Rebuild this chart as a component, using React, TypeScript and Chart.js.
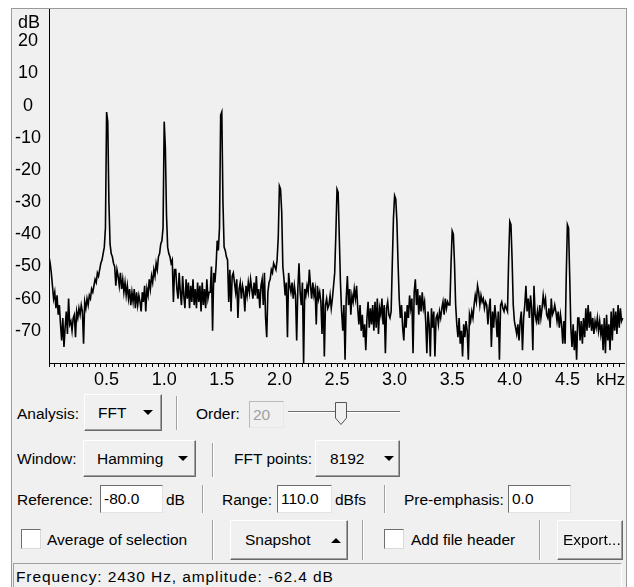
import React, { useEffect, useRef } from 'react';
import { Chart, registerables } from 'chart.js';

Chart.register(...registerables);

// ---------- data ----------
// spectrum bins, one value every 0.01 kHz starting at 0.00 kHz (dB)
const FREQ_STEP_KHZ = 0.01;
const amplitudeDb: number[] = [
  // 0.00
  -47, -49, -52, -56, -60, -58, -63, -59, -65, -62,
  // 0.10
  -68, -73, -66, -75, -69, -64, -71, -60, -68, -67,
  // 0.20
  -70, -66, -65, -72, -64, -66, -63, -65, -62, -64,
  // 0.30
  -74, -61, -63, -60, -62, -59, -60, -57, -58, -56,
  // 0.40
  -54, -55, -52, -53, -51, -49, -48, -46, -44, -38,
  // 0.50
  -2, -5, -30, -43, -46, -47, -49, -50, -56, -51,
  // 0.60
  -53, -56, -52, -57, -54, -58, -55, -59, -56, -60,
  // 0.70
  -57, -62, -58, -61, -57, -63, -58, -62, -59, -61,
  // 0.80
  -64, -58, -61, -56, -64, -57, -59, -54, -57, -53,
  // 0.90
  -55, -51, -53, -49, -51, -47, -46, -43, -42, -38,
  // 1.00
  -5, -13, -34, -44, -46, -47, -49, -48, -61, -51,
  // 1.10
  -51, -57, -60, -52, -58, -62, -53, -59, -63, -54,
  // 1.20
  -60, -55, -63, -56, -61, -54, -62, -57, -63, -55,
  // 1.30
  -61, -56, -64, -55, -62, -57, -63, -54, -60, -58,
  // 1.40
  -58, -50, -70, -52, -55, -50, -42, -45, -38, -3,
  // 1.50
  -2, -30, -44, -45, -47, -48, -61, -51, -64, -53,
  // 1.60
  -52, -55, -58, -54, -66, -57, -55, -60, -56, -58,
  // 1.70
  -64, -56, -59, -55, -58, -54, -57, -60, -55, -59,
  // 1.80
  -53, -60, -57, -63, -56, -54, -62, -52, -66, -72,
  // 1.90
  -58, -55, -54, -51, -52, -49, -50, -51, -48, -41,
  // 2.00
  -25, -26, -33, -50, -54, -59, -55, -72, -52, -56,
  // 2.10
  -58, -55, -60, -56, -59, -73, -57, -49, -58, -62,
  // 2.20
  -55, -80, -57, -59, -56, -58, -51, -56, -60, -55,
  // 2.30
  -59, -57, -68, -56, -60, -58, -61, -71, -57, -78,
  // 2.40
  -62, -60, -63, -62, -59, -63, -60, -56, -52, -40,
  // 2.50
  -26, -27, -41, -55, -64, -70, -62, -79, -60, -53,
  // 2.60
  -62, -57, -65, -59, -61, -57, -60, -56, -63, -68,
  // 2.70
  -62, -70, -65, -72, -68, -76, -66, -61, -69, -63,
  // 2.80
  -68, -62, -70, -61, -69, -60, -71, -63, -65, -60,
  // 2.90
  -68, -62, -77, -63, -61, -65, -66, -64, -49, -35,
  // 3.00
  -28, -29, -36, -49, -60, -66, -62, -69, -73, -64,
  // 3.10
  -69, -62, -66, -59, -63, -60, -77, -58, -54, -62,
  // 3.20
  -57, -65, -59, -64, -58, -63, -61, -67, -77, -64,
  // 3.30
  -68, -78, -63, -69, -64, -78, -66, -65, -68, -64,
  // 3.40
  -66, -63, -61, -65, -60, -63, -61, -62, -62, -49,
  // 3.50
  -39, -40, -49, -62, -68, -72, -66, -74, -70, -78,
  // 3.60
  -68, -72, -67, -70, -79, -65, -67, -64, -66, -62,
  // 3.70
  -59, -61, -56, -58, -62, -59, -61, -60, -63, -61,
  // 3.80
  -62, -68, -63, -60, -75, -64, -69, -62, -66, -72,
  // 3.90
  -64, -79, -62, -61, -63, -64, -62, -63, -64, -48,
  // 4.00
  -36, -37, -48, -62, -67, -69, -71, -68, -73, -67,
  // 4.10
  -64, -76, -66, -62, -56, -64, -60, -66, -59, -63,
  // 4.20
  -76, -56, -65, -67, -64, -68, -62, -66, -63, -59,
  // 4.30
  -62, -60, -65, -66, -63, -69, -60, -65, -64, -62,
  // 4.40
  -64, -67, -64, -69, -65, -68, -74, -67, -74, -53,
  // 4.50
  -37, -38, -53, -69, -75, -68, -76, -70, -79, -66,
  // 4.60
  -66, -73, -67, -74, -66, -72, -63, -70, -62, -69,
  // 4.70
  -64, -70, -66, -71, -67, -69, -66, -70, -67, -71,
  // 4.80
  -68, -76, -66, -77, -65, -73, -68, -76, -64, -73,
  // 4.90
  -63, -70, -64, -71, -62, -69, -63, -67, -66,
];

const xMajorTickValues = [0.5, 1.0, 1.5, 2.0, 2.5, 3.0, 3.5, 4.0, 4.5];
const xTickLabels = ['0.5', '1.0', '1.5', '2.0', '2.5', '3.0', '3.5', '4.0', '4.5'];
const X_MINOR_STEP_KHZ = 0.05;
const X_MIN_KHZ = 0;
const X_MAX_KHZ = 5;
const yTickValues = [20, 10, 0, -10, -20, -30, -40, -50, -60, -70];
const Y_MIN_DB = -80;
const Y_MAX_DB = 30;

const FONT = '"Liberation Sans", Arial, sans-serif';

// ---------- small UI pieces ----------
const Txt = ({ x, cy, children, size = 15.5, color = '#000', spacing = 0 }: any) => (
  <span
    style={{
      position: 'absolute',
      left: x,
      top: cy - 10,
      height: 20,
      lineHeight: '20px',
      fontSize: size,
      color,
      letterSpacing: spacing,
      whiteSpace: 'nowrap',
    }}
  >
    {children}
  </span>
);

const Arrow = ({ x, cy, up }: any) => (
  <div
    style={{
      position: 'absolute',
      left: x - 5,
      top: cy - 2.5,
      width: 0,
      height: 0,
      borderLeft: '5px solid transparent',
      borderRight: '5px solid transparent',
      ...(up ? { borderBottom: '5px solid #000' } : { borderTop: '5px solid #000' }),
    }}
  />
);

const Button = ({ x, y, w, h, label, labelX, arrowX, up }: any) => (
  <div
    style={{
      position: 'absolute',
      left: x,
      top: y,
      width: w,
      height: h,
      boxSizing: 'border-box',
      background: '#f0f0f0',
      borderStyle: 'solid',
      borderWidth: 1,
      borderColor: '#ffffff #696969 #696969 #ffffff',
      boxShadow: 'inset -1px -1px 0 #a0a0a0',
      overflow: 'hidden',
    }}
  >
    <Txt x={labelX} cy={h / 2 - 1}>{label}</Txt>
    {arrowX !== undefined && <Arrow x={arrowX} cy={h / 2 - 1} up={up} />}
  </div>
);

const Sep = ({ x, y, h }: any) => (
  <div
    style={{
      position: 'absolute',
      left: x,
      top: y,
      width: 1,
      height: h,
      background: '#a0a0a0',
      borderRight: '1px solid #ffffff',
    }}
  />
);

const Field = ({ x, y, w, h, text, disabled }: any) => (
  <div
    style={{
      position: 'absolute',
      left: x,
      top: y,
      width: w,
      height: h,
      boxSizing: 'border-box',
      background: disabled ? '#f0f0f0' : '#ffffff',
      borderStyle: 'solid',
      borderWidth: 1,
      borderColor: disabled ? '#b8b8b8 #e8e8e8 #e8e8e8 #b8b8b8' : '#6e6e6e #e3e3e3 #e3e3e3 #6e6e6e',
    }}
  >
    <Txt x={3} cy={h / 2 - 1} color={disabled ? '#a0a0a0' : '#000'}>{text}</Txt>
  </div>
);

const Check = ({ x, y }: any) => (
  <div
    style={{
      position: 'absolute',
      left: x,
      top: y,
      width: 20,
      height: 20,
      boxSizing: 'border-box',
      background: '#ffffff',
      borderStyle: 'solid',
      borderWidth: 1,
      borderColor: '#6e6e6e #d8d8d8 #d8d8d8 #6e6e6e',
    }}
  />
);

// ---------- chart ----------
function SpectrumChart() {
  const ref = useRef<HTMLCanvasElement | null>(null);
  useEffect(() => {
    if (!ref.current) return;
    const points = amplitudeDb.map((v, i) => ({ x: Number((i * FREQ_STEP_KHZ).toFixed(2)), y: v }));
    const chart = new Chart(ref.current, {
      type: 'line',
      data: {
        datasets: [
          {
            data: points,
            borderColor: '#000000',
            borderWidth: 1.6,
            pointRadius: 0,
            tension: 0,
            fill: false,
          },
        ],
      },
      options: {
        animation: false,
        responsive: false,
        maintainAspectRatio: false,
        layout: { padding: 0 },
        plugins: { legend: { display: false }, tooltip: { enabled: false } },
        scales: {
          x: {
            type: 'linear',
            min: X_MIN_KHZ,
            max: X_MAX_KHZ,
            afterFit: (s: any) => {
              s.height = 26;
              s.paddingLeft = 0;
              s.paddingRight = 0;
            },
            border: { display: true, color: '#000000', width: 1 },
            grid: {
              display: true,
              drawOnChartArea: false,
              drawTicks: true,
              tickLength: 4,
              color: '#000000',
              lineWidth: 1,
            },
            ticks: {
              stepSize: X_MINOR_STEP_KHZ,
              autoSkip: false,
              maxRotation: 0,
              minRotation: 0,
              padding: 2,
              color: '#000000',
              font: { family: FONT, size: 18 },
              callback: (v: any) => {
                const idx = xMajorTickValues.findIndex((m) => Math.abs(m - Number(v)) < 1e-6);
                return idx >= 0 ? xTickLabels[idx] : '';
              },
            },
          },
          y: {
            type: 'linear',
            min: Y_MIN_DB,
            max: Y_MAX_DB,
            afterFit: (s: any) => {
              s.width = 37;
              s.paddingTop = 0;
              s.paddingBottom = 0;
            },
            afterBuildTicks: (s: any) => {
              s.ticks = yTickValues.map((v) => ({ value: v }));
            },
            border: { display: true, color: '#000000', width: 1 },
            grid: { display: false, drawTicks: false },
            ticks: {
              crossAlign: 'center',
              padding: 8,
              color: '#000000',
              font: { family: FONT, size: 18 },
              callback: (v: any) => String(v),
            },
          },
        },
      },
    } as any);
    return () => chart.destroy();
  }, []);
  return (
    <canvas
      ref={ref}
      width={613}
      height={380}
      style={{ position: 'absolute', left: 12, top: 9, width: 613, height: 380 }}
    />
  );
}

export default function App() {
  return (
    <div
      style={{
        position: 'fixed',
        left: 0,
        top: 0,
        width: 634,
        height: 587,
        overflow: 'hidden',
        background: '#ffffff',
        fontFamily: FONT,
        color: '#000',
      }}
    >
      <div
        style={{
          position: 'absolute',
          left: 11,
          top: 8,
          width: 616,
          height: 600,
          boxSizing: 'border-box',
          background: '#f0f0f0',
          border: '1px solid #9a9a9a',
        }}
      />
      <SpectrumChart />
      <Txt x={18} cy={22} size={18}>dB</Txt>
      <Txt x={596} cy={380} size={17}>kHz</Txt>

      {/* row 1 */}
      <Txt x={17} cy={414}>Analysis:</Txt>
      <Button x={84} y={394} w={78} h={37} label="FFT" labelX={13} arrowX={63} />
      <Sep x={176} y={396} h={34} />
      <Txt x={196} cy={414}>Order:</Txt>
      <Field x={249} y={401} w={35} h={27} text="20" disabled />
      <div
        style={{
          position: 'absolute',
          left: 288,
          top: 411,
          width: 112,
          height: 1,
          background: '#6e6e6e',
          borderBottom: '1px solid #ffffff',
        }}
      />
      <svg style={{ position: 'absolute', left: 335, top: 402, overflow: 'visible' }} width={12} height={24}>
        <polygon points="0.5,0.5 11.5,0.5 11.5,16 6,22.5 0.5,16" fill="#f0f0f0" stroke="#555555" strokeWidth={1} />
      </svg>

      {/* row 2 */}
      <Txt x={17} cy={459}>Window:</Txt>
      <Button x={83} y={440} w={113} h={37} label="Hamming" labelX={13} arrowX={99} />
      <Sep x={212} y={443} h={34} />
      <Txt x={234} cy={459}>FFT points:</Txt>
      <Button x={315} y={440} w={85} h={37} label="8192" labelX={14} arrowX={73} />

      {/* row 3 */}
      <Txt x={17} cy={500}>Reference:</Txt>
      <Field x={100} y={485} w={63} h={28} text="-80.0" />
      <Txt x={166} cy={500}>dB</Txt>
      <Sep x={202} y={485} h={28} />
      <Txt x={222} cy={500}>Range:</Txt>
      <Field x={277} y={485} w={55} h={28} text="110.0" />
      <Txt x={335} cy={500}>dBfs</Txt>
      <Sep x={384} y={485} h={28} />
      <Txt x={404} cy={500}>Pre-emphasis:</Txt>
      <Field x={508} y={485} w={63} h={28} text="0.0" />

      {/* row 4 */}
      <Check x={21} y={529} />
      <Txt x={47} cy={540}>Average of selection</Txt>
      <Sep x={212} y={520} h={40} />
      <Button x={230} y={520} w={118} h={40} label="Snapshot" labelX={14} arrowX={105} up />
      <Sep x={362} y={520} h={40} />
      <Check x={384} y={529} />
      <Txt x={411} cy={540}>Add file header</Txt>
      <Sep x={539} y={520} h={40} />
      <Button x={557} y={520} w={66} h={40} label="Export..." labelX={5} />

      {/* status bar */}
      <div
        style={{
          position: 'absolute',
          left: 13,
          top: 563,
          width: 609,
          height: 30,
          boxSizing: 'border-box',
          borderStyle: 'solid',
          borderWidth: 1,
          borderColor: '#a0a0a0 #ffffff #ffffff #a0a0a0',
        }}
      />
      <Txt x={16} cy={577} spacing={0.9}>Frequency: 2430 Hz, amplitude: -62.4 dB</Txt>
    </div>
  );
}
